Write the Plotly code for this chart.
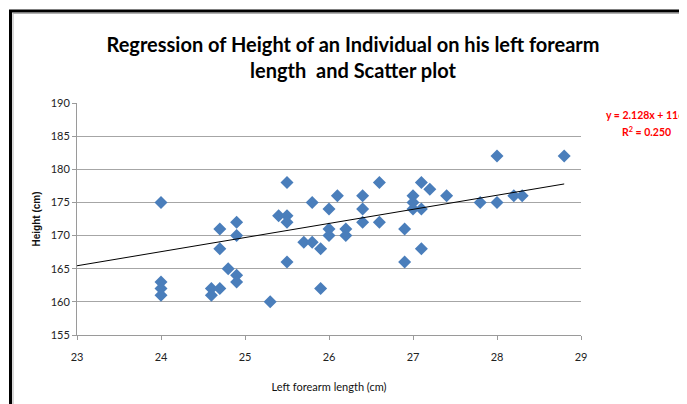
import plotly.graph_objects as go

forearm_cm = [24, 24, 24, 24, 24.6, 24.6, 24.7, 24.7, 24.7, 24.8, 24.9, 24.9, 24.9, 24.9,
              25.3, 25.4, 25.5, 25.5, 25.5, 25.5, 25.7, 25.8, 25.8, 25.9, 25.9,
              26.0, 26.0, 26.0, 26.1, 26.2, 26.2, 26.4, 26.4, 26.4, 26.6, 26.6,
              26.9, 26.9, 27.0, 27.0, 27.0, 27.1, 27.1, 27.1, 27.2, 27.4, 27.8,
              28.0, 28.0, 28.2, 28.3, 28.8]
height_cm = [175, 163, 162, 161, 162, 161, 171, 168, 162, 165, 172, 170, 164, 163,
             160, 173, 178, 173, 172, 166, 169, 175, 169, 168, 162,
             174, 171, 170, 176, 171, 170, 176, 174, 172, 178, 172,
             171, 166, 176, 175, 174, 178, 174, 168, 177, 176, 175,
             182, 175, 176, 176, 182]

slope = 2.128
intercept = 116.5
trend_x = [23, 28.8]
trend_y = [slope * v + intercept for v in trend_x]

x_ticks = [23, 24, 25, 26, 27, 28, 29]
y_ticks = [155, 160, 165, 170, 175, 180, 185, 190]

title_text = "Regression of Height of an Individual on his left forearm<br>length  and Scatter plot"
eq_line1 = "y = 2.128x + 116.5"
eq_line2 = "R<sup>2</sup> = 0.250"

FONT = "Lato, Liberation Sans, sans-serif"

fig = go.Figure()
fig.add_trace(go.Scatter(x=forearm_cm, y=height_cm, mode="markers",
                         marker=dict(symbol="diamond", size=10, color="#4A7EBB"),
                         showlegend=False, hoverinfo="x+y"))
fig.add_trace(go.Scatter(x=trend_x, y=trend_y, mode="lines",
                         line=dict(color="black", width=1), showlegend=False))

# page body has an 8px margin; work in window pixels and shift
OFF = 8
W, H = 687 - OFF, 404 - OFF
L, T = 77 - OFF, 103 - OFF
R = W - (581 - OFF)
B = H - (335 - OFF)
pw, ph = W - L - R, H - T - B

def px(x):
    return (x - OFF - L) / pw

def py(y):
    return (H - B - (y - OFF)) / ph

fig.update_layout(
    width=W, height=H,
    margin=dict(l=L, r=R, t=T, b=B),
    paper_bgcolor="white", plot_bgcolor="white",
    font=dict(family=FONT, color="#222"),
    title=dict(text=title_text, xref="paper", x=px(353), xanchor="center",
               yref="container", y=1 - (52 - OFF) / H, yanchor="middle",
               font=dict(size=20, family=FONT, color="black", weight="bold")),
    xaxis=dict(range=[23, 29], tickvals=x_ticks, showgrid=False, zeroline=False,
               showline=True, linecolor="#9a9a9a", linewidth=1,
               ticks="outside", ticklen=4, tickcolor="#9a9a9a", ticklabelstandoff=8,
               tickfont=dict(size=11, color="#222"),
               title=dict(text="Left forearm length (cm)", standoff=21,
                          font=dict(size=11, color="#111"))),
    yaxis=dict(range=[155, 190], tickvals=y_ticks, showgrid=True, gridcolor="#a6a6a6",
               gridwidth=1, zeroline=False, showline=True, linecolor="#9a9a9a", linewidth=1,
               ticks="outside", ticklen=4, tickcolor="#9a9a9a",
               tickfont=dict(size=11, color="#222"),
               title=dict(text="<b>Height (cm)</b>", standoff=8,
                          font=dict(size=10, family="Liberation Sans, sans-serif", color="#111"))),
    annotations=[
        dict(text="<b>" + eq_line1 + "</b>", xref="paper", yref="paper", x=px(604), y=py(115),
             xanchor="left", yanchor="middle", showarrow=False,
             font=dict(size=10.5, color="#FF0000", family=FONT)),
        dict(text="<b>" + eq_line2 + "</b>", xref="paper", yref="paper", x=px(620), y=py(131),
             xanchor="left", yanchor="middle", showarrow=False,
             font=dict(size=10.5, color="#FF0000", family=FONT)),
    ],
    shapes=[
        dict(type="line", xref="paper", yref="paper", x0=px(10.5), x1=px(10.5), y0=py(10), y1=py(420),
             line=dict(color="black", width=3)),
        dict(type="line", xref="paper", yref="paper", x0=px(9), x1=px(700), y0=py(11), y1=py(11),
             line=dict(color="black", width=3)),
        dict(type="line", xref="paper", yref="paper", x0=px(13), x1=px(13), y0=py(13), y1=py(420),
             line=dict(color="#b0b0b0", width=1)),
        dict(type="line", xref="paper", yref="paper", x0=px(13), x1=px(700), y0=py(13.5), y1=py(13.5),
             line=dict(color="#b0b0b0", width=1)),
    ],
)

fig.write_html("out.html")
